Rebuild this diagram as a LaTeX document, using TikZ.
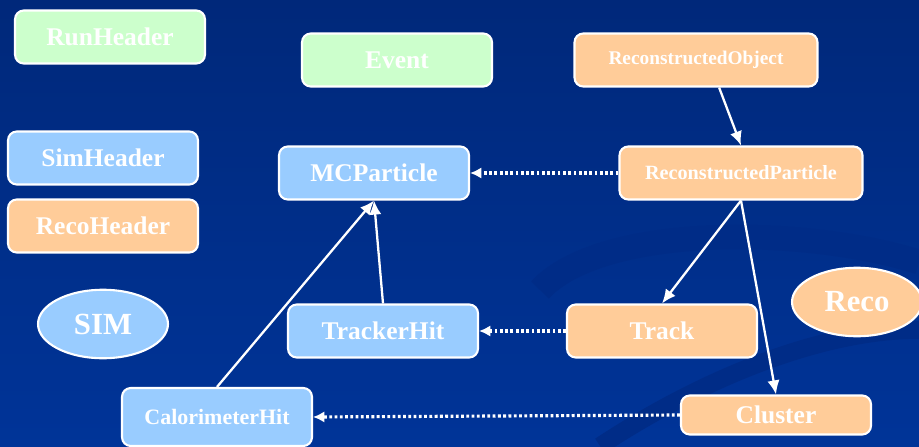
\documentclass[tikz,border=0pt]{standalone}
\usepackage{fontspec}
\setmainfont{Liberation Serif}
\usetikzlibrary{shapes.geometric,arrows.meta}

\definecolor{bgblue}{RGB}{0,52,152}
\definecolor{bgtop}{RGB}{0,40,122}
\definecolor{swirl}{RGB}{0,44,135}
\definecolor{simblue}{RGB}{153,204,255}
\definecolor{recoorange}{RGB}{255,204,153}
\definecolor{hdrgreen}{RGB}{204,255,204}

\begin{document}
\begin{tikzpicture}
    [x=0.02cm,y=-0.02cm,
     every node/.style={draw=white, line width=1.2pt, text=white, inner sep=0pt,
       font=\bfseries\fontsize{14.5}{16}\selectfont},
     box/.style={rectangle, rounded corners=5pt, minimum width=3.8cm, minimum height=1.06cm},
     widebox/.style={box, minimum width=4.86cm},
     blob/.style={ellipse, minimum width=2.6cm, minimum height=1.37cm,
       font=\bfseries\fontsize{17.5}{19}\selectfont},
     sim/.style={fill=simblue},
     reco/.style={fill=recoorange},
     hdr/.style={fill=hdrgreen},
     link/.style={draw=white, line width=1.3pt, -{Latex[length=8pt,width=7pt]}},
     uses/.style={link, line width=1.8pt, dash pattern=on 1.6pt off 1.4pt,
       -{Latex[length=6.5pt,width=6.5pt]}}]

    % background
    \useasboundingbox (0,0) rectangle (919,446);
    \fill[top color=bgtop, bottom color=bgblue] (0,0) rectangle (919,446);
    \draw[swirl, line width=14pt] (540,290) .. controls (600,225) and (800,225) .. (919,262);
    \draw[swirl, line width=10pt] (600,446) .. controls (700,380) and (820,330) .. (919,330);

    \node[box,hdr] (runh) at (110,37) {RunHeader};
    \node[box,hdr] (event) at (397,60) {Event};
    \node[widebox,reco,font=\bfseries\fontsize{11}{13}\selectfont] (robj) at (696,60) {ReconstructedObject};

    \node[box,sim] (simh) at (103,158) {SimHeader};
    \node[box,reco] (recoh) at (103,226) {RecoHeader};
    \node[box,sim] (mcp) at (374,173) {MCParticle};
    \node[widebox,reco,font=\bfseries\fontsize{11.5}{13}\selectfont] (rpart) at (741,173) {ReconstructedParticle};

    \node[blob,sim] (simlbl) at (103,324) {SIM};
    \node[blob,reco] (recolbl) at (857,302) {Reco};

    \node[box,sim] (thit) at (383,331) {TrackerHit};
    \node[box,reco] (track) at (662,331) {Track};
    \node[box,sim,minimum height=1.16cm,font=\bfseries\fontsize{12.5}{14}\selectfont] (chit) at (217,417) {CalorimeterHit};
    \node[box,reco,minimum height=0.78cm] (cluster) at (776,415) {Cluster};

    \foreach \from/\to in {robj.-50/rpart.north, rpart.south/track.north, rpart.south/cluster.north,
      thit.north/mcp.south, chit.north/mcp.south}
    \draw[link] (\from) -- (\to);

    \foreach \from/\to in {rpart/mcp, track/thit, cluster/chit}
    \draw[uses] (\from.west) -- (\to.east);
\end{tikzpicture}
\end{document}
